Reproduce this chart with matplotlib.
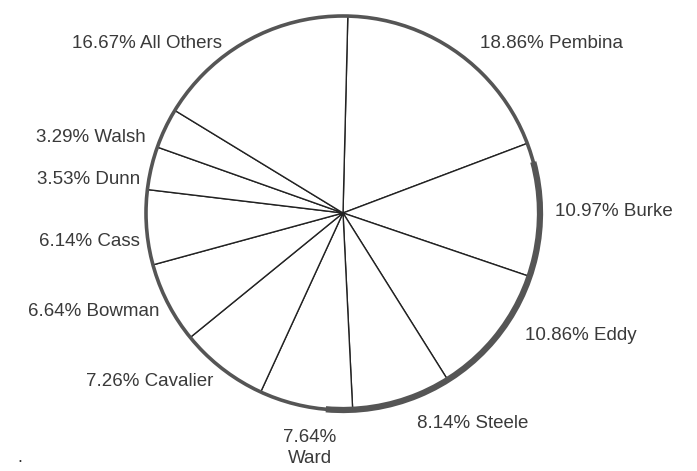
import matplotlib
matplotlib.use('Agg')
import matplotlib.pyplot as plt
from matplotlib.patches import Circle, Arc

# 数据（顺时针，从正上方开始）
counties = ['Pembina', 'Burke', 'Eddy', 'Steele', 'Ward', 'Cavalier',
            'Bowman', 'Cass', 'Dunn', 'Walsh', 'All Others']
shares = [18.86, 10.97, 10.86, 8.14, 7.64, 7.26, 6.64, 6.14, 3.53, 3.29, 16.67]

# 标签位置（像素，原点左上）与对齐方式
label_pos = [(480, 44, 'left'), (555, 211, 'left'), (525, 335, 'left'),
             (417, 423, 'left'), (310, 448, 'center'), (213, 381, 'right'),
             (160, 312, 'right'), (140, 241, 'right'), (140, 180, 'right'),
             (146, 137, 'right'), (222, 44, 'right')]

W, H = 697, 471
CX, CY, R = 343, 213, 197

plt.rcParams['font.family'] = ['Liberation Sans', 'DejaVu Sans']

fig = plt.figure(figsize=(W / 100, H / 100), dpi=100)
ax = fig.add_axes([0, 0, 1, 1])

ax.pie(shares, center=(CX, H - CY), radius=R, startangle=88.6,
       counterclock=False, colors=['white'] * len(shares),
       wedgeprops=dict(edgecolor='#222222', linewidth=1.0),
       frame=True)
ax.set_xlim(0, W)
ax.set_ylim(0, H)
ax.set_aspect('equal')
ax.axis('off')

# 外圈（扫描件中右侧更粗）
ax.add_patch(Circle((CX, H - CY), R, fill=False, edgecolor='#555555', linewidth=2.6))
ax.add_patch(Arc((CX, H - CY), 2 * R, 2 * R, theta1=-95, theta2=15,
                 edgecolor='#555555', linewidth=4.5))

for name, val, (x, y, ha) in zip(counties, shares, label_pos):
    if name == 'Ward':
        txt = f'{val:.2f}%\n{name}'
    else:
        txt = f'{val:.2f}% {name}'
    t = ax.text(x, H - y, txt, ha=ha, va='center', fontsize=13.5, color='#3a3a3a',
                linespacing=1.3)
    t.set_fontstretch('expanded')

ax.text(20, H - 458, '.', ha='center', va='center', fontsize=13, color='#333333')

fig.savefig('out.png', dpi=100, facecolor='white')
